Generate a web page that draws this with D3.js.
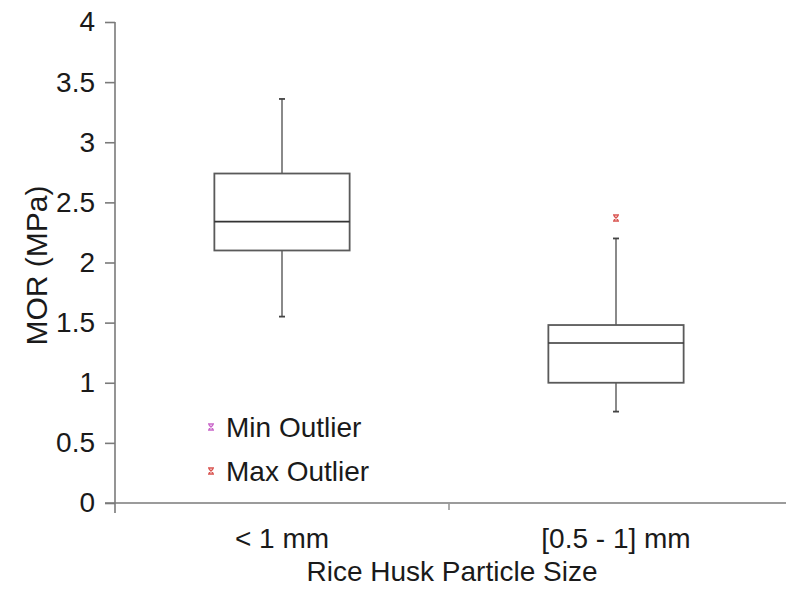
<!DOCTYPE html>
<html>
<head>
<meta charset="utf-8">
<script src="https://cdn.jsdelivr.net/npm/d3@7"></script>
<style>
  html, body { margin: 0; padding: 0; background: #fff; }
  svg text { font-family: Arial, "Liberation Sans", sans-serif; fill: #1a1a1a; }
</style>
</head>
<body>
<svg id="chart" width="786" height="589"></svg>
<script>
// Particle size groups
const categories = ["< 1 mm", "[0.5 - 1] mm"];
// Box statistics per group (MPa)
const whiskerLow  = [1.55, 0.76];
const quartile1   = [2.10, 1.00];
const medians     = [2.34, 1.33];
const quartile3   = [2.74, 1.48];
const whiskerHigh = [3.36, 2.20];
// Outliers beyond the whiskers: [group index, value]
const maxOutliers = [[1, 2.37]];
const minOutliers = [];
const yTicks = [0, 0.5, 1, 1.5, 2, 2.5, 3, 3.5, 4];
const legendItems = [
  { label: "Min Outlier", color: "#c966c9" },
  { label: "Max Outlier", color: "#d9534f" }
];

const svg = d3.select("#chart");
const plotLeft = 115, plotRight = 783, plotTop = 22, plotBottom = 503;

const x = d3.scaleBand().domain(categories).range([plotLeft, plotRight]);
const y = d3.scaleLinear().domain([0, 4]).range([plotBottom, plotTop]);

const axisColor = "#7a7a7a";
const fontFamily = "Arial, 'Liberation Sans', sans-serif";

// Y axis
const yAxis = svg.append("g")
  .attr("transform", `translate(${plotLeft},0)`)
  .call(d3.axisLeft(y).tickValues(yTicks).tickSize(10).tickPadding(10)
        .tickFormat(d => d3.format("")(d)));
yAxis.select(".domain").attr("stroke", axisColor).attr("stroke-width", 1.6)
  .attr("d", `M0,${plotTop}V${plotBottom + 10}`);
yAxis.selectAll(".tick line").attr("stroke", axisColor).attr("stroke-width", 1.6);
yAxis.selectAll(".tick text").attr("font-size", 28).attr("fill", "#1a1a1a")
  .attr("font-family", fontFamily);

// X axis
const xAxis = svg.append("g")
  .attr("transform", `translate(0,${plotBottom})`)
  .call(d3.axisBottom(x).tickSize(0).tickPadding(25));
xAxis.select(".domain").attr("stroke", axisColor).attr("stroke-width", 1.6)
  .attr("d", `M${plotLeft - 10},0H786`);
xAxis.selectAll(".tick text").attr("font-size", 28).attr("fill", "#1a1a1a")
  .attr("font-family", fontFamily);
// divider tick between the two groups
xAxis.append("line")
  .attr("x1", x(categories[1])).attr("x2", x(categories[1]))
  .attr("y1", 0).attr("y2", 7)
  .attr("stroke", "#999").attr("stroke-width", 1.6);

// Axis titles
svg.append("text")
  .attr("x", (plotLeft + plotRight) / 2 + 3).attr("y", 581)
  .attr("text-anchor", "middle").attr("font-size", 28)
  .text("Rice Husk Particle Size");
svg.append("text")
  .attr("transform", `translate(47,${(plotTop + plotBottom) / 2 + 3}) rotate(-90)`)
  .attr("text-anchor", "middle").attr("font-size", 30)
  .text("MOR (MPa)");

// Boxes
const boxW = x.bandwidth() * 0.405;
const groups = svg.append("g").selectAll("g").data(categories).join("g")
  .attr("transform", d => `translate(${x(d) + x.bandwidth() / 2},0)`);

// whiskers
groups.append("line")
  .attr("x1", 0).attr("x2", 0)
  .attr("y1", (d, i) => y(whiskerHigh[i])).attr("y2", (d, i) => y(quartile3[i]))
  .attr("stroke", "#8a8a8a").attr("stroke-width", 2);
groups.append("line")
  .attr("x1", 0).attr("x2", 0)
  .attr("y1", (d, i) => y(quartile1[i])).attr("y2", (d, i) => y(whiskerLow[i]))
  .attr("stroke", "#8a8a8a").attr("stroke-width", 2);
// whisker caps
[whiskerHigh, whiskerLow].forEach(arr => {
  groups.append("line")
    .attr("x1", -3).attr("x2", 3)
    .attr("y1", (d, i) => y(arr[i])).attr("y2", (d, i) => y(arr[i]))
    .attr("stroke", "#444").attr("stroke-width", 1.8);
});
// box
groups.append("rect")
  .attr("x", -boxW / 2).attr("width", boxW)
  .attr("y", (d, i) => y(quartile3[i]))
  .attr("height", (d, i) => y(quartile1[i]) - y(quartile3[i]))
  .attr("fill", "none").attr("stroke", "#5a5a5a").attr("stroke-width", 1.8);
// median
groups.append("line")
  .attr("x1", -boxW / 2).attr("x2", boxW / 2)
  .attr("y1", (d, i) => y(medians[i])).attr("y2", (d, i) => y(medians[i]))
  .attr("stroke", "#333").attr("stroke-width", 1.6);

// Outlier marker: small hourglass-like cross
function marker(sel, color) {
  sel.append("path")
    .attr("d", "M-3,-3H3M-3,3H3M-2,-2L2,2M2,-2L-2,2")
    .attr("stroke", color).attr("stroke-width", 1.4).attr("fill", "none");
}
maxOutliers.forEach(([gi, v]) => {
  const g = svg.append("g")
    .attr("transform", `translate(${x(categories[gi]) + x.bandwidth() / 2},${y(v)})`);
  marker(g, legendItems[1].color);
});
minOutliers.forEach(([gi, v]) => {
  const g = svg.append("g")
    .attr("transform", `translate(${x(categories[gi]) + x.bandwidth() / 2},${y(v)})`);
  marker(g, legendItems[0].color);
});

// Legend
const leg = svg.append("g").selectAll("g").data(legendItems).join("g")
  .attr("transform", (d, i) => `translate(211,${427 + i * 44})`);
leg.each(function (d) { marker(d3.select(this), d.color); });
leg.append("text")
  .attr("x", 15).attr("dy", "0.35em").attr("font-size", 28)
  .text(d => d.label);
</script>
</body>
</html>
